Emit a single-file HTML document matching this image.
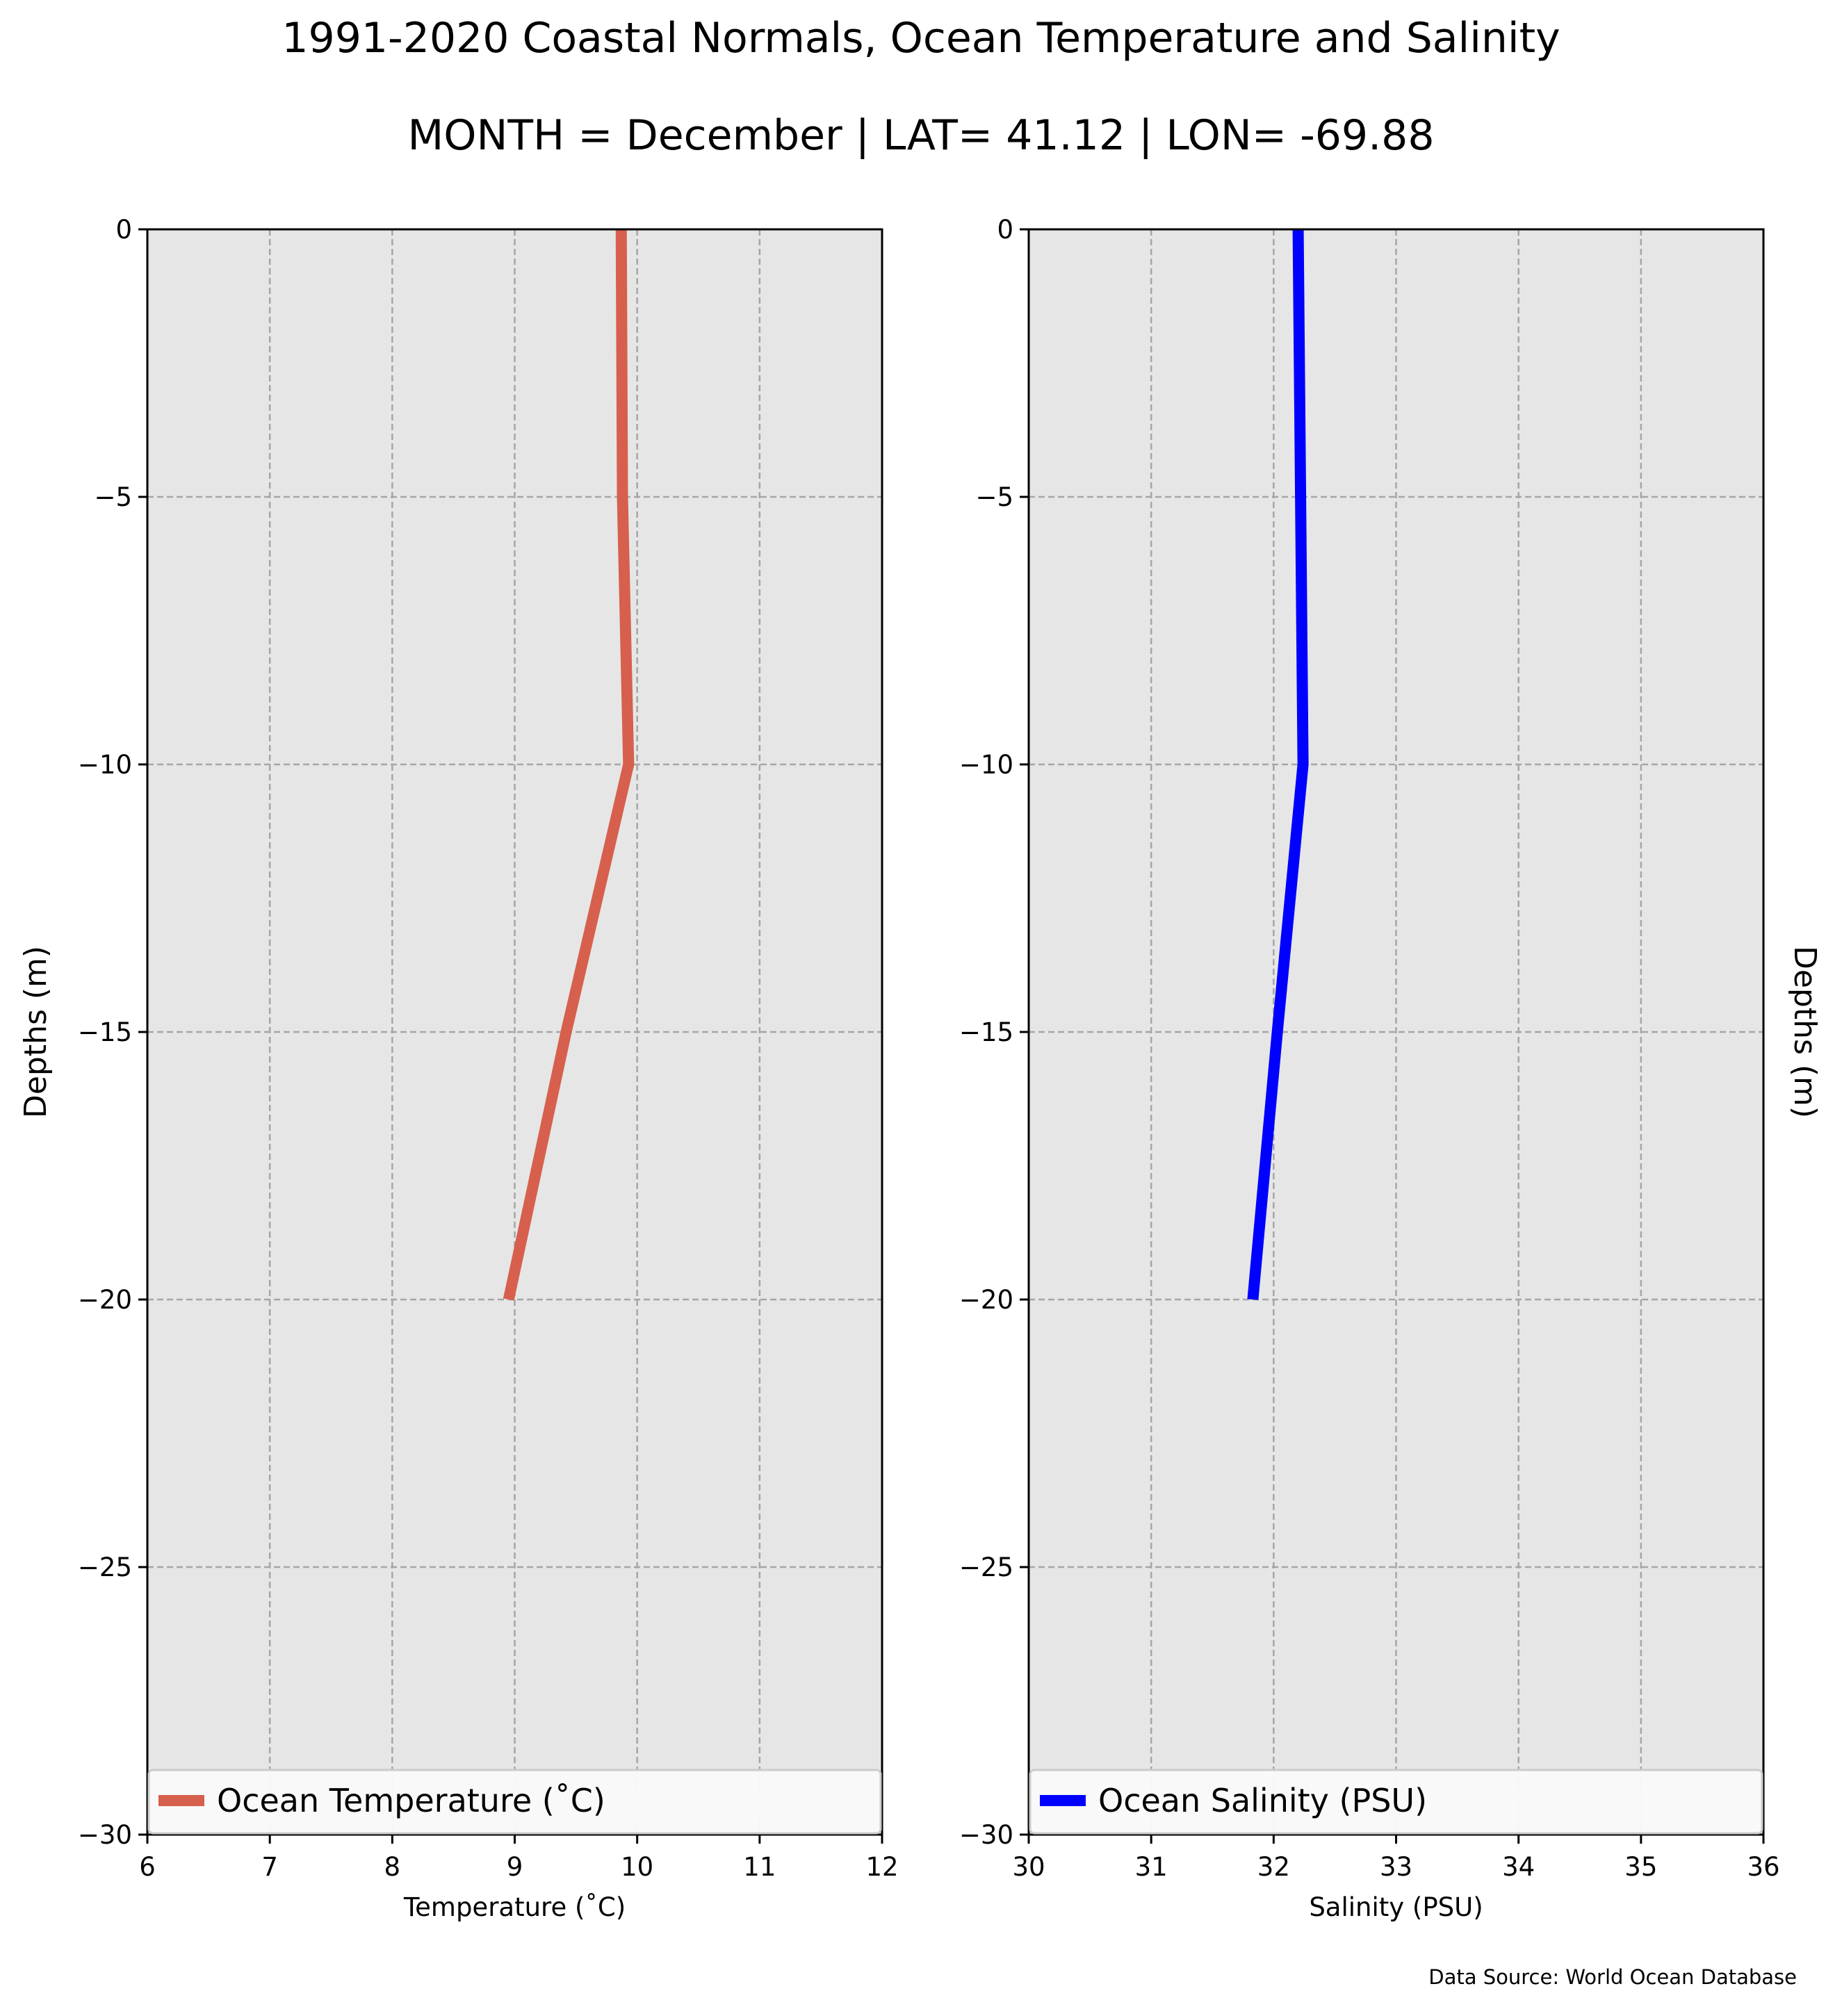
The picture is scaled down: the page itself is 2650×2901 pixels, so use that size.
<!DOCTYPE html>
<html><head><meta charset="utf-8"><style>
body{margin:0;background:#fff}
svg{display:block;font-family:"DejaVu Sans","Liberation Sans",sans-serif}
</style></head><body>
<svg id="fig" width="2650" height="2901" viewBox="0 0 2650 2901" xmlns="http://www.w3.org/2000/svg">
<text x="1325" y="75" font-size="60" text-anchor="middle">1991-2020 Coastal Normals, Ocean Temperature and Salinity</text>
<text x="1325" y="215" font-size="60" text-anchor="middle">MONTH = December | LAT= 41.12 | LON= -69.88</text>
<text x="2585" y="2855" font-size="29" text-anchor="end">Data Source: World Ocean Database</text>
<g id="left"></g>
<g id="right"></g>
</svg>
<script>
const depths = [0, -5, -10, -15, -20];
const temperature = [9.87, 9.88, 9.93, 9.42, 8.95];
const salinity = [32.2, 32.22, 32.24, 32.03, 31.83];
const yTicks = [0, -5, -10, -15, -25, -20, -30];
const tempTicks = [6, 7, 8, 9, 10, 11, 12];
const salTicks = [30, 31, 32, 33, 34, 35, 36];

const NS = "http://www.w3.org/2000/svg";
function mk(parent, tag, attrs, text) {
  const e = document.createElementNS(NS, tag);
  for (const k in attrs) e.setAttribute(k, attrs[k]);
  if (text !== undefined) e.textContent = text;
  parent.appendChild(e);
  return e;
}
const TOP = 330, BOT = 2640;
function yScale(d) { return TOP + (0 - d) / 30 * (BOT - TOP); }

function panel(g, x0, x1, xmin, xmax, xt, values, color, legendText, xlabel, name, ylabelSide) {
  const xs = v => x0 + (v - xmin) / (xmax - xmin) * (x1 - x0);
  const bg = mk(g, 'rect', {x: x0, y: TOP, width: x1 - x0, height: BOT - TOP, fill: '#e6e6e6'});
  
  
  xt.forEach(t => {
    const gl = mk(g, 'line', {x1: xs(t), x2: xs(t), y1: TOP, y2: BOT, stroke: '#a6a6a6', 'stroke-width': 2.5, 'stroke-dasharray': '9 5'});
    
    
    const tk = mk(g, 'line', {x1: xs(t), x2: xs(t), y1: BOT, y2: BOT + 13, stroke: '#000', 'stroke-width': 3});
    
    
    const tl = mk(g, 'text', {x: xs(t), y: BOT + 59, 'font-size': 37, 'text-anchor': 'middle'}, String(t));
    
    
  });
  yTicks.forEach(t => {
    const y = yScale(t);
    const gl = mk(g, 'line', {x1: x0, x2: x1, y1: y, y2: y, stroke: '#a6a6a6', 'stroke-width': 2.5, 'stroke-dasharray': '9 5'});
    
    
    const tk = mk(g, 'line', {x1: x0 - 13, x2: x0, y1: y, y2: y, stroke: '#000', 'stroke-width': 3});
    
    
    const tl = mk(g, 'text', {x: x0 - 22, y: y + 13, 'font-size': 37, 'text-anchor': 'end'}, t === 0 ? '0' : '\u2212' + Math.abs(t));
    
    
  });
  const pts = depths.map((d, i) => xs(values[i]) + ',' + yScale(d)).join(' ');
  const ln = mk(g, 'polyline', {points: pts, fill: 'none', stroke: color, 'stroke-width': 16});
  
  
  const fr = mk(g, 'rect', {x: x0, y: TOP, width: x1 - x0, height: BOT - TOP, fill: 'none', stroke: '#000', 'stroke-width': 3});
  
  
  const lg = mk(g, 'g', {});
  
  
  mk(lg, 'rect', {x: x0 + 2, y: 2547, width: x1 - x0 - 4, height: 91, rx: 6, fill: '#fafafa', stroke: '#cccccc', 'stroke-width': 3, 'fill-opacity': 0.95});
  const sw = mk(lg, 'line', {x1: x0 + 16, x2: x0 + 82, y1: 2591, y2: 2591, stroke: color, 'stroke-width': 16});
  
  
  const lt = mk(lg, 'text', {x: x0 + 100, y: 2607, 'font-size': 46}, legendText);
  
  
  const xl = mk(g, 'text', {x: (x0 + x1) / 2, y: 2757, 'font-size': 37, 'text-anchor': 'middle'}, xlabel);
  
  
  const cy = (TOP + BOT) / 2;
  let yl;
  if (ylabelSide === 'left') {
    yl = mk(g, 'text', {x: 0, y: 0, 'font-size': 44, 'text-anchor': 'middle', transform: 'translate(66,' + cy + ') rotate(-90)'}, 'Depths (m)');
  } else {
    yl = mk(g, 'text', {x: 0, y: 0, 'font-size': 44, 'text-anchor': 'middle', transform: 'translate(2582,' + cy + ') rotate(90)'}, 'Depths (m)');
  }
  
  
}
panel(document.getElementById('left'), 212, 1269, 6, 12, tempTicks, temperature, '#d6604d', 'Ocean Temperature (\u02DAC)', 'Temperature (\u02DAC)', 'temperature', 'left');
panel(document.getElementById('right'), 1480, 2537, 30, 36, salTicks, salinity, '#0000ff', 'Ocean Salinity (PSU)', 'Salinity (PSU)', 'salinity', 'right');
</script>
</body></html>
